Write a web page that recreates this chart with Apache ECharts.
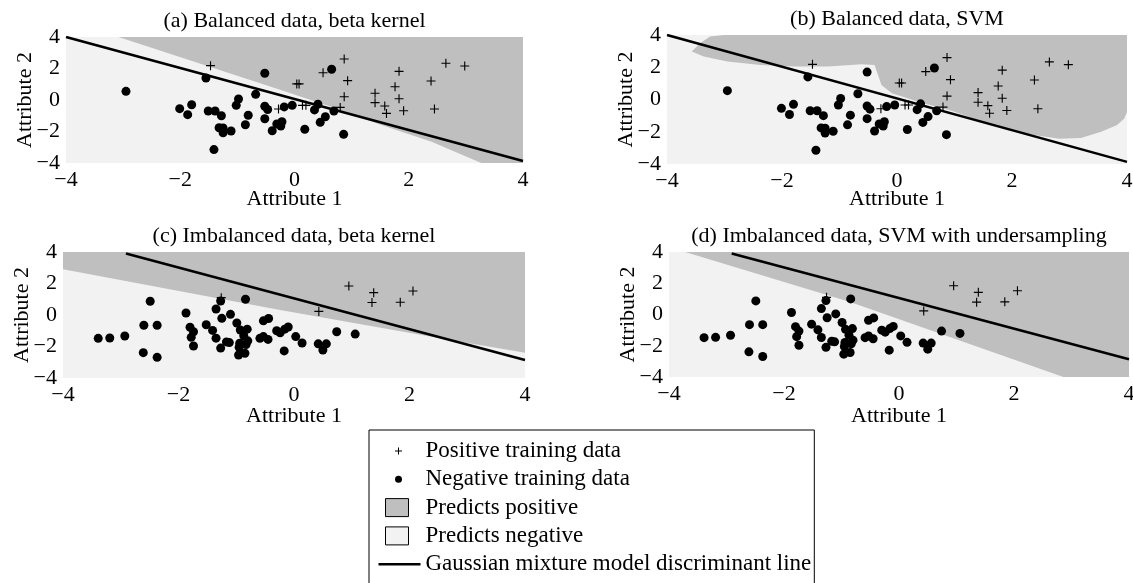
<!DOCTYPE html>
<html lang="en">
<head>
<meta charset="UTF-8">
<title>Beta kernel vs SVM decision regions</title>
<script src="https://cdn.jsdelivr.net/npm/echarts@6/dist/echarts.min.js"></script>
<style>html,body{margin:0;padding:0;background:#fff}</style>
</head>
<body>
<div id="main" style="width:1133px;height:583px"></div>
<script>
// balanced training data, panels (a) and (b)
var balPos = [[-1.47,2.18],[-0.28,-0.57],[0.87,2.6],[0.5,1.73],[0.93,1.23],[0.87,0.21],[0.04,1.02],[0.08,1.02],
  [0.14,-0.34],[0.2,-0.34],[0.8,-0.47],[1.41,0.43],[1.41,-0.17],[1.58,-0.38],[1.61,-0.85],[1.76,0.84],
  [1.83,1.82],[1.83,0.08],[1.91,-0.68],[2.39,1.21],[2.45,-0.57],[2.65,2.33],[2.98,2.16]]
var balNeg = [[-2.95,0.55],[-1.55,1.4],[-0.52,1.7],[-0.68,0.36],[-0.98,0.06],[-1.02,-0.34],[-2.01,-0.55],
  [-1.8,-0.3],[-1.87,-0.93],[-1.51,-0.7],[-1.39,-0.7],[-1.28,-1.0],[-1.32,-1.76],[-1.25,-1.78],[-1.25,-2.08],
  [-1.11,-1.97],[-1.41,-3.15],[-0.81,-0.97],[-0.86,-1.57],[-0.52,-0.4],[-0.47,-0.6],[-0.52,-1.19],
  [-0.18,-0.44],[-0.04,-0.34],[-0.39,-1.95],[-0.31,-1.52],[-0.22,-1.38],[-0.24,-1.65],[0.65,1.95],
  [0.18,-1.86],[0.41,-0.27],[0.35,-0.63],[0.54,-1.06],[0.45,-1.42],[0.69,-0.7],[0.86,-2.18]]
// imbalanced training data, panels (c) and (d)
var imbPos = [[-1.26,1.1],[0.43,0.23],[0.95,1.84],[1.38,1.42],[1.35,0.79],[1.84,0.81],[2.06,1.52]]
var imbNeg = [[-3.39,-1.48],[-3.19,-1.46],[-2.93,-1.33],[-2.49,0.87],[-2.6,-0.65],[-2.37,-0.65],[-2.61,-2.39],
  [-2.37,-2.69],[-1.87,0.13],[-1.8,-0.78],[-1.74,-1.06],[-1.78,-1.42],[-1.74,-1.97],[-1.52,-0.62],
  [-1.41,-0.98],[-1.35,-1.47],[-1.27,-2.1],[-1.35,0.38],[-1.27,0.89],[-1.25,-0.21],[-1.1,0.04],
  [-0.99,-0.51],[-0.93,-0.95],[-1.17,-1.71],[-1.12,-1.75],[-0.94,-1.79],[-0.95,-2.05],[-0.96,-2.54],
  [-0.85,-2.43],[-0.84,1.0],[-0.81,-0.9],[-0.87,-1.32],[-0.8,-1.64],[-0.83,-1.87],[-0.53,-0.37],
  [-0.44,-0.22],[-0.59,-1.48],[-0.53,-1.37],[-0.45,-1.55],[-0.3,-1.0],[-0.24,-1.13],[-0.16,-0.9],
  [-0.1,-0.76],[-0.17,-2.28],[0.03,-1.37],[0.14,-1.78],[0.42,-1.83],[0.56,-1.83],[0.5,-2.22],
  [0.74,-1.06],[1.06,-1.21]]
// GMM discriminant lines
var balLine = [[-4,4],[4,-3.87]]
var imbLine = [[-2.91,3.9],[4,-2.86]]
// outlines of the "predicts positive" regions
var regionA = [[-3.08,4],[4,4],[4,-4],[3.27,-4],[2.4,-2.65],[1.52,-1.59],[0.64,-0.43],[-0.24,0.63]]
var regionB = [[-3.0,4],[4,4],[4,-0.77],[3.95,-1.2],[3.82,-1.6],[3.55,-2.0],[3.2,-2.38],[2.82,-2.44],
  [2.24,-2.13],[1.66,-1.6],[0.96,-0.72],[0.37,-0.14],[-0.09,0.38],[-0.27,0.9],[-0.33,1.52],[-0.39,2.14],
  [-0.62,2.19],[-1.2,2.04],[-1.79,2.04],[-2.37,2.14],[-2.95,2.36],[-3.36,2.67],[-3.57,2.98],[-3.42,3.5],[-3.25,3.9]]
var regionC = [[-4,4],[4,4],[4,-2.39],[2.53,-1.48],[-0.24,0.32],[-4,2.9]]
var regionD = [[-3.72,4],[4,4],[4,-4],[2.86,-4],[-0.85,0.8]]
var plotArea = [[-4,-4],[4,-4],[4,4],[-4,4]]
var titles = ['(a) Balanced data, beta kernel', '(b) Balanced data, SVM',
  '(c) Imbalanced data, beta kernel', '(d) Imbalanced data, SVM with undersampling']

var FONT = 'Liberation Serif'
var DARK = '#bfbfbf', LIGHT = '#f2f2f2'
var plus = 'path://M3.5,0h1v3.5h3.5v1h-3.5v3.5h-1v-3.5h-3.5v-1h3.5z'

var panels = [
  {grid: {left: 66, top: 37, width: 457, height: 126}, xGap: 25, pos: balPos, neg: balNeg, line: balLine, region: regionA},
  {grid: {left: 667, top: 35, width: 460, height: 129}, xGap: 24, pos: balPos, neg: balNeg, line: balLine, region: regionB},
  {grid: {left: 63, top: 252, width: 462, height: 126}, xGap: 27, pos: imbPos, neg: imbNeg, line: imbLine, region: regionC},
  {grid: {left: 669, top: 252, width: 460, height: 125}, xGap: 28, pos: imbPos, neg: imbNeg, line: imbLine, region: regionD}
]

function drawRegion(params, api) {
  if (params.dataIndexInside !== 0) return
  var pts = []
  for (var i = 0; i < params.dataInsideLength; i++) {
    pts.push(api.coord([api.value(0, i), api.value(1, i)]))
  }
  return {type: 'polygon', shape: {points: pts}, style: {fill: api.visual('color')}}
}

function minus(v) { return String(v).replace('-', '\u2212') }

var grids = [], xAxes = [], yAxes = [], titleList = [], series = []
panels.forEach(function (p, i) {
  grids.push(Object.assign({containLabel: false, outerBoundsMode: 'none'}, p.grid))
  var axisCommon = {
    type: 'value', gridIndex: i, min: -4, max: 4, interval: 2,
    axisLine: {show: false}, axisTick: {show: false}, splitLine: {show: false},
    nameLocation: 'middle', nameMoveOverlap: false,
    nameTextStyle: {fontSize: 22, color: '#000', fontFamily: FONT},
    axisLabel: {fontSize: 22, color: '#000', fontFamily: FONT, margin: 6, formatter: minus,
      showMinLabel: true, showMaxLabel: true}
  }
  xAxes.push(Object.assign({}, axisCommon, {name: 'Attribute 1', nameGap: p.xGap}))
  yAxes.push(Object.assign({}, axisCommon, {name: 'Attribute 2', nameGap: 30, nameRotate: 90}))
  titleList.push({
    text: titles[i], left: p.grid.left + p.grid.width / 2, textAlign: 'center',
    top: p.grid.top - 27, padding: 0,
    textStyle: {fontSize: 22, fontWeight: 'normal', color: '#000', fontFamily: FONT}
  })
  series.push(
    {type: 'custom', name: 'Predicts negative', xAxisIndex: i, yAxisIndex: i, renderItem: drawRegion,
      data: plotArea, itemStyle: {color: LIGHT}, z: 1, silent: true},
    {type: 'custom', name: 'Predicts positive', xAxisIndex: i, yAxisIndex: i, renderItem: drawRegion,
      data: p.region, itemStyle: {color: DARK}, z: 2, silent: true},
    {type: 'line', name: 'Gaussian mixture model discriminant line', xAxisIndex: i, yAxisIndex: i,
      data: p.line, symbol: 'none', itemStyle: {color: '#000'}, lineStyle: {color: '#000', width: 2.5}, z: 3, silent: true},
    {type: 'scatter', name: 'Negative training data', xAxisIndex: i, yAxisIndex: i, data: p.neg,
      symbol: 'circle', symbolSize: 9, itemStyle: {color: '#000', opacity: 1}, z: 4, silent: true},
    {type: 'scatter', name: 'Positive training data', xAxisIndex: i, yAxisIndex: i, data: p.pos,
      symbol: plus, symbolSize: 9, itemStyle: {color: '#000', opacity: 1}, z: 5, silent: true}
  )
})

var myChart = echarts.init(document.getElementById('main'))
myChart.setOption({
  animation: false,
  textStyle: {fontFamily: FONT},
  title: titleList,
  grid: grids,
  xAxis: xAxes,
  yAxis: yAxes,
  legend: {
    left: 369, top: 430, width: 440, height: 190, orient: 'vertical', selectedMode: false,
    padding: [9.5, 3, 40, 9], itemWidth: 42, itemHeight: 19, itemGap: 5.3,
    borderColor: '#000', borderWidth: 1, backgroundColor: '#fff',
    textStyle: {fontSize: 23, color: '#000', fontFamily: FONT, lineHeight: 19},
    data: [
      {name: 'Positive training data', icon: 'path://M0,0M42,19M19.5,6h1v3h3v1h-3v3h-1v-3h-3v-1h3z'},
      {name: 'Negative training data', icon: 'path://M0,0M42,19M23.5,9.5A3.5,3.5,0,1,1,16.5,9.5A3.5,3.5,0,1,1,23.5,9.5z'},
      {name: 'Predicts positive', icon: 'path://M0,0M42,19M7,0.5h23v18h-23z', itemStyle: {borderColor: '#000', borderWidth: 1}},
      {name: 'Predicts negative', icon: 'path://M0,0M42,19M7,0.5h23v18h-23z', itemStyle: {borderColor: '#000', borderWidth: 1}},
      {name: 'Gaussian mixture model discriminant line', icon: 'path://M0,0M42,19M0,8.2h42v2.6h-42z'}
    ]
  },
  series: series
})
</script>
</body>
</html>
